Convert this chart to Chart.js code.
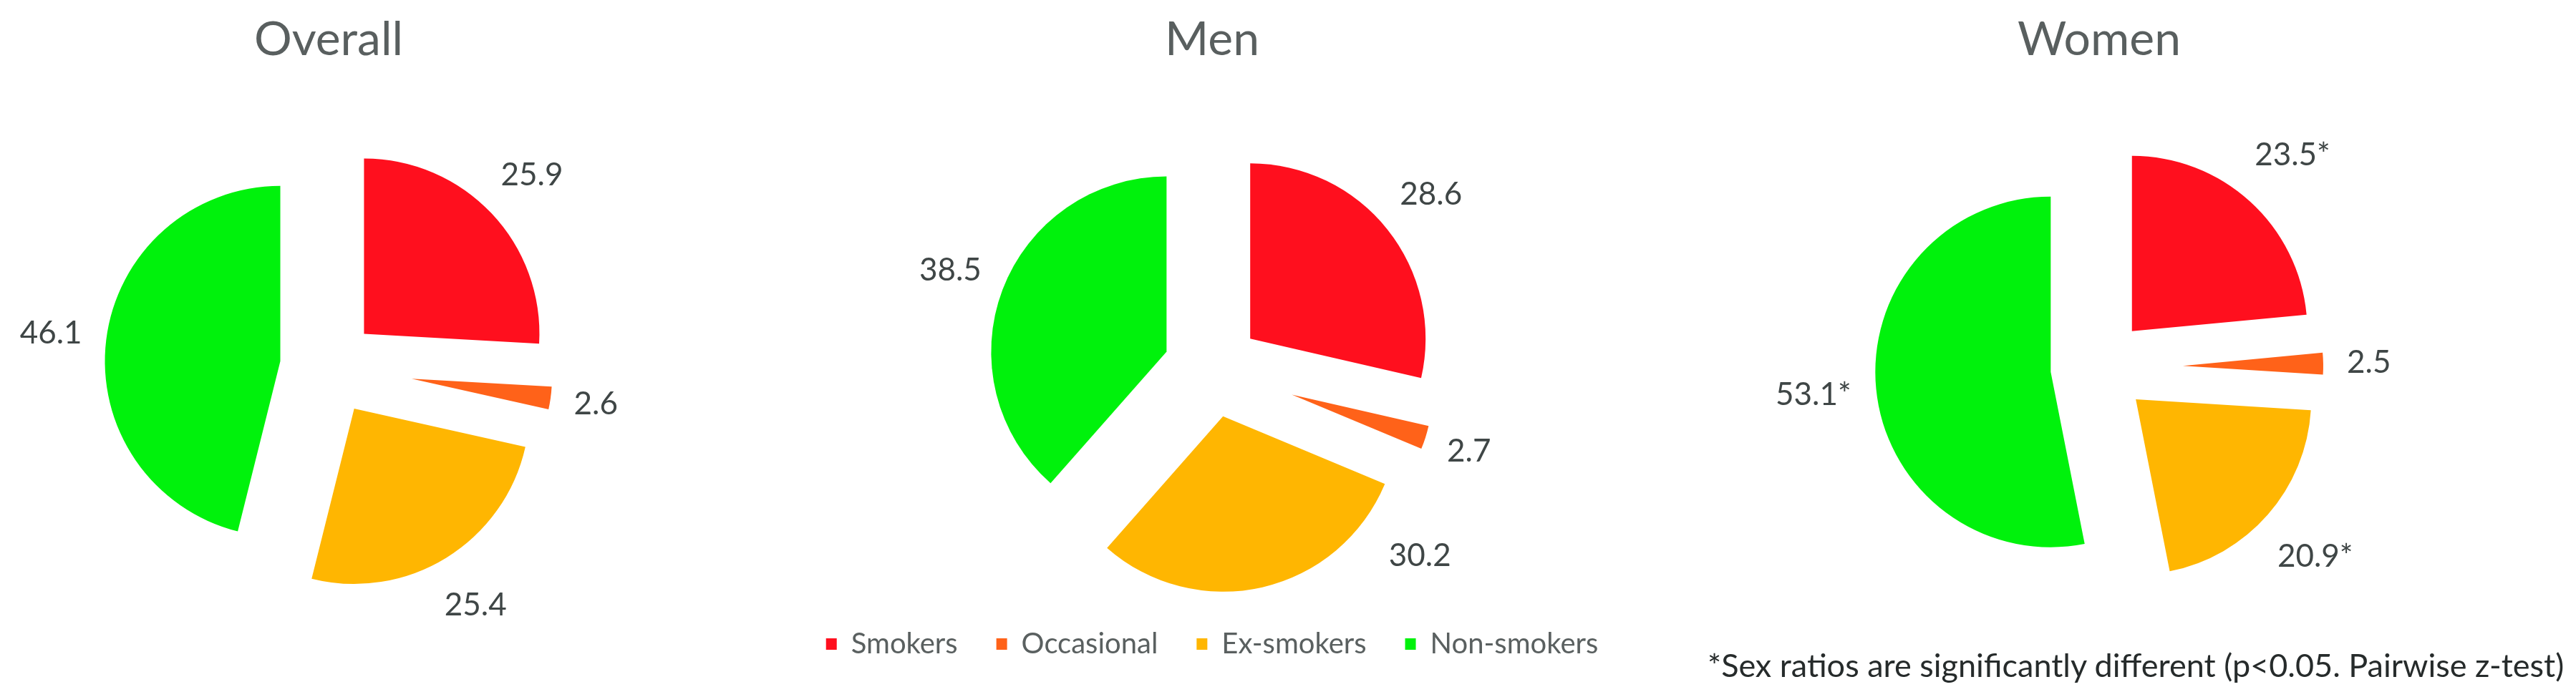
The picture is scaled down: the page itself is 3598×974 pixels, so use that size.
<!DOCTYPE html>
<html lang="en">
<head>
  <meta charset="UTF-8">
  <title>Smoking status - Overall, Men, Women</title>
  <script src="https://cdn.jsdelivr.net/npm/chart.js"></script>
  <style>
    body { margin: 0; background: #fff; width: 3598px; height: 974px; position: relative; overflow: hidden; font-family: Lato, sans-serif; }
    .pie-box { position: absolute; top: 0; height: 974px; }
    #note { position: absolute; left: 2385px; top: 902px; font-size: 45px; line-height: 54px; color: #262b2b; white-space: nowrap; }
  </style>
</head>
<body>
  <div class="pie-box" style="left: 9px; width: 900px;"><canvas id="overallChart"></canvas></div>
  <div class="pie-box" style="left: 1068px; width: 1250px;"><canvas id="menChart"></canvas></div>
  <div class="pie-box" style="left: 2482px; width: 900px;"><canvas id="womenChart"></canvas></div>
  <div id="note">*Sex ratios are significantly different (p&lt;0.05. Pairwise z-test)</div>

  <script>
    const categories = ['Smokers', 'Occasional', 'Ex-smokers', 'Non-smokers'];
    const overallValues = [25.9, 2.6, 25.4, 46.1];
    const menValues = [28.6, 2.7, 30.2, 38.5];
    const womenValues = [23.5, 2.5, 20.9, 53.1];
    const womenMarks = ['*', '', '*', '*'];   // sex difference significant
    const noMarks = ['', '', '', ''];

    const sliceColors = ['#FF0F1E', '#FF6219', '#FFB601', '#00F20C'];
    // how far each slice is pulled out, and how much smaller the thin one is drawn
    const shift = [68, 117, 68, 68];
    const shrink = [0, 49, 0, 0];
    // label moved round the pie (degrees), only the men's ex-smokers one
    const noTurn = [0, 0, 0, 0];
    const menTurn = [0, 0, -35, 0];

    const explodePlugin = {
      id: 'explode',
      afterDatasetsUpdate(chart) {
        chart.getDatasetMeta(0).data.forEach((arc, i) => {
          const mid = (arc.startAngle + arc.endAngle) / 2;
          arc.x += Math.cos(mid) * shift[i];
          arc.y += Math.sin(mid) * shift[i];
          arc.outerRadius -= shrink[i];
        });
      }
    };

    const valueLabels = {
      id: 'valueLabels',
      afterDatasetsDraw(chart, args, opts) {
        const ctx = chart.ctx;
        const values = chart.data.datasets[0].data;
        ctx.save();
        ctx.font = '44px Lato';
        ctx.fillStyle = '#3f4646';
        ctx.textAlign = 'center';
        ctx.textBaseline = 'middle';
        chart.getDatasetMeta(0).data.forEach((arc, i) => {
          const mid0 = (arc.startAngle + arc.endAngle) / 2;
          const cx = arc.x - Math.cos(mid0) * shift[i];
          const cy = arc.y - Math.sin(mid0) * shift[i];
          const text = values[i].toFixed(1) + opts.marks[i];
          const w = ctx.measureText(text).width;
          const mid = mid0 + opts.turn[i] * Math.PI / 180;
          const r = shift[i] + arc.outerRadius + 30 + 0.55 * w;
          ctx.fillText(text, cx + Math.cos(mid) * r, cy + Math.sin(mid) * r);
        });
        ctx.restore();
      }
    };

    function makePie(id, name, values, marks, turn, withLegend) {
      return new Chart(document.getElementById(id), {
        type: 'pie',
        data: {
          labels: categories,
          datasets: [{
            data: values,
            backgroundColor: sliceColors,
            borderWidth: 0,
            radius: 245
          }]
        },
        options: {
          responsive: true,
          maintainAspectRatio: false,
          animation: false,
          layout: { padding: { bottom: withLegend ? 44 : 53 } },
          plugins: {
            title: {
              display: true,
              text: name,
              color: '#595f5f',
              font: { family: 'Lato', size: 66, weight: 'normal' },
              padding: { top: 16, bottom: withLegend ? 110 : 10 }
            },
            legend: {
              display: withLegend,
              position: 'bottom',
              labels: {
                boxWidth: 15,
                boxHeight: 16,
                padding: 54,
                color: '#5a6060',
                font: { family: 'Lato', size: 40 }
              }
            },
            tooltip: { enabled: false },
            valueLabels: { marks: marks, turn: turn }
          }
        },
        plugins: [explodePlugin, valueLabels]
      });
    }

    makePie('overallChart', 'Overall', overallValues, noMarks, noTurn, false);
    makePie('menChart', 'Men', menValues, noMarks, menTurn, true);
    makePie('womenChart', 'Women', womenValues, womenMarks, noTurn, false);
  </script>
</body>
</html>
